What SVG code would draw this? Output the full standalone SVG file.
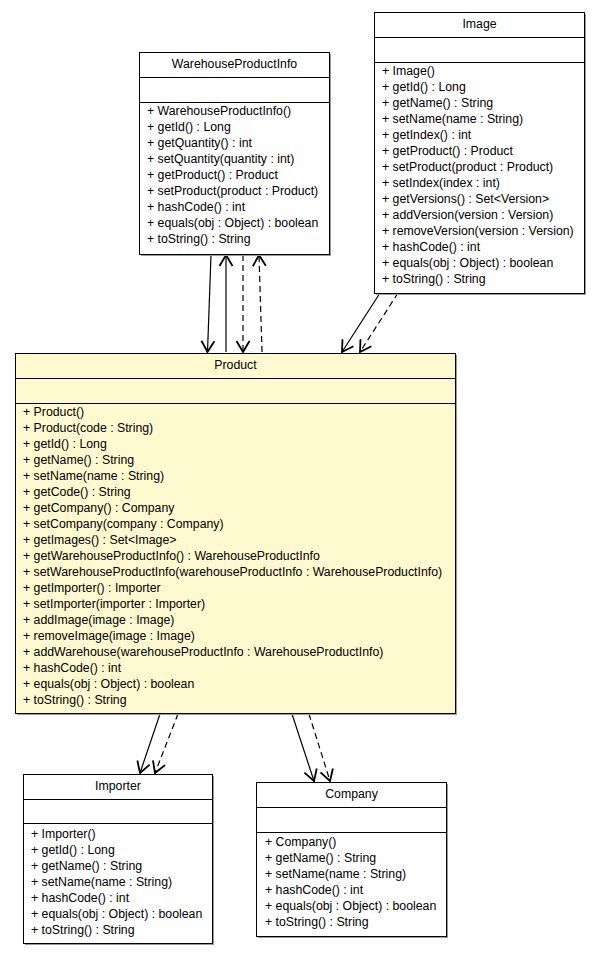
<svg xmlns="http://www.w3.org/2000/svg" width="601" height="955" viewBox="0 0 601 955">
<defs>
<style>
text{font-family:"Liberation Sans",Arial,sans-serif;font-size:12.3px;fill:#000}
.t{text-anchor:middle}
.box{fill:#fff;stroke:#000;stroke-width:1}
.prod{fill:#fff9cf;stroke:#000;stroke-width:1}
.sh{fill:#9a9a9a}
.sep{stroke:#000;stroke-width:1}
.c{fill:none;stroke:#000;stroke-width:1.2}
.d{stroke-dasharray:6,4}
</style>
<marker id="ah" viewBox="-14 -9 18 18" refX="0" refY="0" markerWidth="18" markerHeight="18" markerUnits="userSpaceOnUse" orient="auto">
<path d="M-11,-6.5 L0,0 L-11,6.5" fill="none" stroke="#000" stroke-width="1.8"/>
</marker>
</defs>
<rect width="601" height="955" fill="#fff"/>

<g id="connectors">
<line class="c" x1="211" y1="255" x2="207.5" y2="352" marker-end="url(#ah)"/>
<line class="c" x1="226" y1="352" x2="226" y2="255" marker-end="url(#ah)"/>
<line class="c d" x1="243" y1="255" x2="243" y2="352" marker-end="url(#ah)"/>
<line class="c d" x1="262" y1="352" x2="259" y2="255" marker-end="url(#ah)"/>
<line class="c" x1="380" y1="293" x2="342" y2="352" marker-end="url(#ah)"/>
<line class="c d" x1="398" y1="293" x2="360" y2="352" marker-end="url(#ah)"/>
<line class="c" x1="160" y1="714" x2="140" y2="773" marker-end="url(#ah)"/>
<line class="c d" x1="178" y1="714" x2="155" y2="773" marker-end="url(#ah)"/>
<line class="c" x1="292" y1="714" x2="314" y2="781" marker-end="url(#ah)"/>
<line class="c d" x1="309" y1="714" x2="330" y2="781" marker-end="url(#ah)"/>
</g>

<g id="WarehouseProductInfo">
<rect class="sh" x="141" y="54" width="190" height="202"/>
<rect class="box" x="139.5" y="52.5" width="190" height="202"/>
<line class="sep" x1="139.5" y1="77.5" x2="329.5" y2="77.5"/>
<line class="sep" x1="139.5" y1="102.5" x2="329.5" y2="102.5"/>
<text class="t" x="234.5" y="68">WarehouseProductInfo</text>
<text x="147" y="115">+ WarehouseProductInfo()</text>
<text x="147" y="131">+ getId() : Long</text>
<text x="147" y="147">+ getQuantity() : int</text>
<text x="147" y="163">+ setQuantity(quantity : int)</text>
<text x="147" y="179">+ getProduct() : Product</text>
<text x="147" y="195">+ setProduct(product : Product)</text>
<text x="147" y="211">+ hashCode() : int</text>
<text x="147" y="227">+ equals(obj : Object) : boolean</text>
<text x="147" y="243">+ toString() : String</text>
</g>

<g id="Image">
<rect class="sh" x="376" y="14" width="210" height="281"/>
<rect class="box" x="374.5" y="12.5" width="210" height="281"/>
<line class="sep" x1="374.5" y1="37.5" x2="584.5" y2="37.5"/>
<line class="sep" x1="374.5" y1="62.5" x2="584.5" y2="62.5"/>
<text class="t" x="479.5" y="28">Image</text>
<text x="382" y="75">+ Image()</text>
<text x="382" y="91">+ getId() : Long</text>
<text x="382" y="107">+ getName() : String</text>
<text x="382" y="123">+ setName(name : String)</text>
<text x="382" y="139">+ getIndex() : int</text>
<text x="382" y="155">+ getProduct() : Product</text>
<text x="382" y="171">+ setProduct(product : Product)</text>
<text x="382" y="187">+ setIndex(index : int)</text>
<text x="382" y="203">+ getVersions() : Set&lt;Version&gt;</text>
<text x="382" y="219">+ addVersion(version : Version)</text>
<text x="382" y="235">+ removeVersion(version : Version)</text>
<text x="382" y="251">+ hashCode() : int</text>
<text x="382" y="267">+ equals(obj : Object) : boolean</text>
<text x="382" y="283">+ toString() : String</text>
</g>

<g id="Product">
<rect class="sh" x="17" y="355" width="440" height="360"/>
<rect class="prod" x="15.5" y="353.5" width="440" height="360"/>
<line class="sep" x1="15.5" y1="378.5" x2="455.5" y2="378.5"/>
<line class="sep" x1="15.5" y1="403.5" x2="455.5" y2="403.5"/>
<text class="t" x="235.5" y="369">Product</text>
<text x="23" y="416">+ Product()</text>
<text x="23" y="432">+ Product(code : String)</text>
<text x="23" y="448">+ getId() : Long</text>
<text x="23" y="464">+ getName() : String</text>
<text x="23" y="480">+ setName(name : String)</text>
<text x="23" y="496">+ getCode() : String</text>
<text x="23" y="512">+ getCompany() : Company</text>
<text x="23" y="528">+ setCompany(company : Company)</text>
<text x="23" y="544">+ getImages() : Set&lt;Image&gt;</text>
<text x="23" y="560">+ getWarehouseProductInfo() : WarehouseProductInfo</text>
<text x="23" y="576">+ setWarehouseProductInfo(warehouseProductInfo : WarehouseProductInfo)</text>
<text x="23" y="592">+ getImporter() : Importer</text>
<text x="23" y="608">+ setImporter(importer : Importer)</text>
<text x="23" y="624">+ addImage(image : Image)</text>
<text x="23" y="640">+ removeImage(image : Image)</text>
<text x="23" y="656">+ addWarehouse(warehouseProductInfo : WarehouseProductInfo)</text>
<text x="23" y="672">+ hashCode() : int</text>
<text x="23" y="688">+ equals(obj : Object) : boolean</text>
<text x="23" y="704">+ toString() : String</text>
</g>

<g id="Importer">
<rect class="sh" x="25" y="776" width="189" height="169"/>
<rect class="box" x="23.5" y="774.5" width="189" height="169"/>
<line class="sep" x1="23.5" y1="799.5" x2="212.5" y2="799.5"/>
<line class="sep" x1="23.5" y1="823.5" x2="212.5" y2="823.5"/>
<text class="t" x="118" y="790">Importer</text>
<text x="31" y="838">+ Importer()</text>
<text x="31" y="854">+ getId() : Long</text>
<text x="31" y="870">+ getName() : String</text>
<text x="31" y="886">+ setName(name : String)</text>
<text x="31" y="902">+ hashCode() : int</text>
<text x="31" y="918">+ equals(obj : Object) : boolean</text>
<text x="31" y="934">+ toString() : String</text>
</g>

<g id="Company">
<rect class="sh" x="258" y="784" width="190" height="154"/>
<rect class="box" x="256.5" y="782.5" width="190" height="154"/>
<line class="sep" x1="256.5" y1="807.5" x2="446.5" y2="807.5"/>
<line class="sep" x1="256.5" y1="832.5" x2="446.5" y2="832.5"/>
<text class="t" x="351.5" y="798">Company</text>
<text x="265" y="846">+ Company()</text>
<text x="265" y="862">+ getName() : String</text>
<text x="265" y="878">+ setName(name : String)</text>
<text x="265" y="894">+ hashCode() : int</text>
<text x="265" y="910">+ equals(obj : Object) : boolean</text>
<text x="265" y="926">+ toString() : String</text>
</g>
</svg>
